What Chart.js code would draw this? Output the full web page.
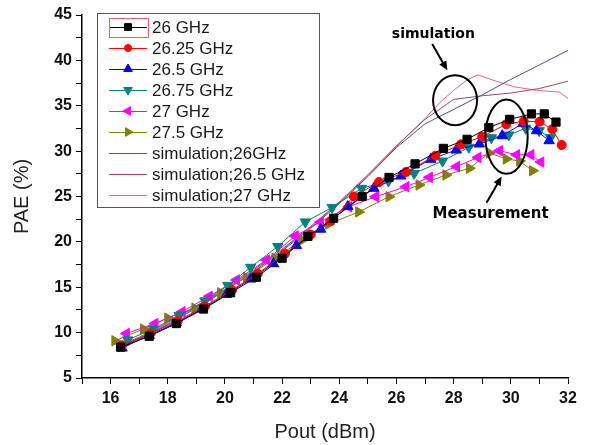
<!DOCTYPE html>
<html>
<head>
<meta charset="utf-8">
<script src="https://cdn.jsdelivr.net/npm/chart.js@4.4.0/dist/chart.umd.min.js"></script>
<style>
html,body{margin:0;padding:0;background:#fff;}
</style>
</head>
<body>
<canvas id="myChart" width="590" height="445"></canvas>
<script>
// PAE vs Pout, measured at six frequencies + three simulations

// measured
let pout26   = [16.35,17.35,18.3,19.25,20.2,21.1,22.0,22.9,23.8,24.8,25.74,26.65,27.64,28.47,29.23,29.96,30.72,31.17,31.58];
let pae26    = [8.4,9.6,11.0,12.6,14.4,16.1,18.2,20.6,22.6,25.0,27.1,28.6,30.3,31.3,32.6,33.5,34.1,34.1,33.2];

let pout2625 = [16.4,17.4,18.35,19.3,20.25,21.15,22.1,23.0,23.7,24.51,25.39,26.33,27.36,28.26,29.0,29.84,30.45,31.01,31.45,31.78];
let pae2625  = [8.6,9.9,11.3,12.9,14.7,16.5,18.7,20.8,22.3,25.0,26.6,27.7,29.5,30.75,31.6,32.96,33.3,33.24,32.4,30.67];

let pout265  = [16.4,17.35,18.3,19.2,20.05,20.9,21.7,22.5,23.35,24.3,25.21,26.15,27.2,28.09,28.9,29.7,30.43,30.9,31.34];
let pae265   = [8.3,9.7,11.1,12.6,14.2,15.9,17.6,19.6,21.4,23.9,25.9,27.26,29.1,30.12,30.79,31.7,33.07,32.25,31.15];

let pout2675 = [16.6,17.5,18.4,19.3,20.1,20.9,21.85,22.81,23.75,24.78,25.72,26.62,27.61,28.53,29.32,29.93,30.52,30.99,31.39];
let pae2675  = [9.2,10.4,11.9,13.5,15.2,17.2,19.5,22.2,23.8,25.9,26.7,27.55,28.91,30.42,31.48,31.78,32.52,32.25,31.48];

let pout27   = [16.55,17.55,18.5,19.45,20.4,21.45,22.46,23.34,24.33,25.27,26.33,27.15,28.1,28.85,29.6,30.2,30.7,31.05];
let pae27    = [9.9,11.0,12.3,14.0,15.8,18.0,20.65,22.2,23.87,24.98,26.08,27.11,28.3,29.3,30.05,29.6,29.6,28.8];

let pout275  = [16.15,17.15,18.0,18.95,19.85,20.75,21.75,22.7,23.63,24.68,25.74,26.79,27.73,28.55,29.25,29.84,30.31,30.76];
let pae275   = [9.1,10.4,11.6,12.7,14.4,16.1,18.2,20.2,21.97,23.3,24.98,26.27,27.37,28.11,29.8,29.13,28.91,27.84];

// simulation
let simPout   = [16.3,17,18,19,20,21,22,23,24,25,26,27,28,29,30,31,32];
let sim26     = [8.4,9.3,10.9,12.7,14.6,16.7,19.0,21.5,24.2,27.2,30.4,33.0,34.6,36.2,37.9,39.5,41.1];
let sim265    = [8.6,9.5,11.1,12.9,14.8,16.9,19.2,21.7,24.4,27.4,30.6,33.5,35.7,36.1,36.4,36.9,37.7];
let simPout27 = [16.3,17,18,19,20,21,22,23,24,25,26,27,27.5,28,28.5,28.85,29.4,30.1,30.9,31.7,32];
let sim27     = [8.5,9.4,11.0,12.8,14.7,16.8,19.1,21.6,24.3,27.3,30.5,33.6,35.3,36.7,37.9,38.4,37.8,37.1,36.7,36.5,35.8];

function pts(xs, ys){ return xs.map((v,i)=>({x:v, y:ys[i]})); }

function measured(label, xs, ys, color, style, rot, r){
    return {label:label, data:pts(xs,ys), showLine:true, borderColor:color, backgroundColor:color,
        borderWidth:1, pointStyle:style, pointRotation:rot, pointRadius:r, pointBorderWidth:1};
}
function sim(label, xs, ys, color){
    return {label:label, data:pts(xs,ys), showLine:true, borderColor:color, backgroundColor:color,
        borderWidth:1, pointRadius:0};
}

let datasets = [
    measured('26 GHz', pout26, pae26, '#000000', 'rect', 0, 5.8),
    measured('26.25 GHz', pout2625, pae2625, '#ff0000', 'circle', 0, 4.5),
    measured('26.5 GHz', pout265, pae265, '#0000ff', 'triangle', 0, 6),
    measured('26.75 GHz', pout2675, pae2675, '#008080', 'triangle', 180, 6),
    measured('27 GHz', pout27, pae27, '#ff00ff', 'triangle', 270, 6),
    measured('27.5 GHz', pout275, pae275, '#808000', 'triangle', 90, 6),
    sim('simulation;26GHz', simPout, sim26, '#4b4ba8'),
    sim('simulation;26.5 GHz', simPout, sim265, '#9a4a5a'),
    sim('simulation;27 GHz', simPout27, sim27, '#e8609e')
];

// boxed legend in the top left corner of the plot
let legendBox = {
    id:'legendBox',
    afterDatasetsDraw(chart){
        let ctx = chart.ctx, area = chart.chartArea;
        let x0 = area.left + 15, y0 = area.top - 2, w = 222, rowH = 21;
        let n = chart.data.datasets.length;
        ctx.save();
        ctx.fillStyle = '#fff';
        ctx.fillRect(x0, y0, w, n*rowH + 5);
        ctx.strokeStyle = '#555';
        ctx.lineWidth = 1;
        ctx.strokeRect(x0+0.5, y0+0.5, w, n*rowH + 5);
        chart.data.datasets.forEach(function(ds, i){
            let cy = y0 + 14 + i*rowH;
            ctx.strokeStyle = ds.borderColor;
            ctx.lineWidth = 1;
            ctx.beginPath(); ctx.moveTo(x0+12, cy+0.5); ctx.lineTo(x0+50, cy+0.5); ctx.stroke();
            if (ds.pointRadius > 0){
                ctx.fillStyle = ds.backgroundColor;
                Chart.helpers.drawPoint(ctx, {pointStyle:ds.pointStyle, rotation:ds.pointRotation,
                    radius:ds.pointRadius - 1, borderWidth:1}, x0+31, cy);
            }
            ctx.fillStyle = '#1a1a1a';
            ctx.font = '17px "Liberation Sans", Arial, sans-serif';
            ctx.textBaseline = 'middle';
            ctx.fillText(ds.label, x0+55, cy+1);
        });
        // leftover selection frame round the first sample
        ctx.strokeStyle = '#e06060';
        ctx.strokeRect(x0+12.5, y0+5.5, 39, 19);
        ctx.restore();
    }
};

// ellipses, arrows and the two notes
let notes = {
    id:'notes',
    afterDatasetsDraw(chart){
        let ctx = chart.ctx, sx = chart.scales.x, sy = chart.scales.y;
        function px(v){ return sx.getPixelForValue(v); }
        function py(v){ return sy.getPixelForValue(v); }
        function ellipse(cx, cy, rx, ry){
            ctx.beginPath();
            ctx.ellipse(px(cx), py(cy), Math.abs(px(cx+rx)-px(cx)), Math.abs(py(cy+ry)-py(cy)), 0, 0, Math.PI*2);
            ctx.stroke();
        }
        function arrow(x1, y1, x2, y2){
            let a = px(x1), b = py(y1), c = px(x2), d = py(y2);
            let ang = Math.atan2(d-b, c-a);
            ctx.beginPath(); ctx.moveTo(a, b); ctx.lineTo(c - 6*Math.cos(ang), d - 6*Math.sin(ang)); ctx.stroke();
            ctx.beginPath();
            ctx.moveTo(c, d);
            ctx.lineTo(c - 9*Math.cos(ang) + 4*Math.sin(ang), d - 9*Math.sin(ang) - 4*Math.cos(ang));
            ctx.lineTo(c - 9*Math.cos(ang) - 4*Math.sin(ang), d - 9*Math.sin(ang) + 4*Math.cos(ang));
            ctx.closePath(); ctx.fill();
        }
        ctx.save();
        ctx.strokeStyle = '#000'; ctx.fillStyle = '#000'; ctx.lineWidth = 2;
        ellipse(28.05, 35.6, 0.77, 2.75);
        ellipse(29.85, 31.6, 0.74, 4.1);
        arrow(27.25, 41.8, 27.78, 38.9);
        arrow(29.15, 24.3, 29.68, 27.2);
        ctx.font = 'bold 14px "DejaVu Sans", sans-serif';
        ctx.textAlign = 'center'; ctx.textBaseline = 'middle';
        ctx.fillText('simulation', px(27.29), py(42.9));
        ctx.font = 'bold 15px "DejaVu Sans", sans-serif';
        ctx.fillText('Measurement', px(29.29), py(23.07));
        ctx.restore();
    }
};

let tickFont = {family:'"Liberation Sans", Arial, sans-serif', size:16, weight:'bold'};
let titleFont = {family:'"Liberation Sans", Arial, sans-serif', size:20};

let myChart1 = document.getElementById('myChart').getContext('2d');
let chart1 = new Chart(myChart1, {
    type:'scatter',
    data:{datasets:datasets},
    options:{
        responsive:false,
        animation:false,
        layout:{padding:{left:0, right:22, top:15, bottom:0}},
        plugins:{legend:{display:false}, tooltip:{enabled:false}},
        scales:{
            x:{
                type:'linear', min:15, max:32,
                afterFit(s){ s.height = 67; },
                border:{display:true, color:'#000', width:1.5},
                grid:{display:true, drawOnChartArea:false, drawTicks:true, tickLength:6, color:'#000'},
                ticks:{stepSize:1, padding:5, color:'#111', font:tickFont, maxRotation:0,
                    callback:function(v){ return (v % 2 === 0) ? v : ''; }},
                title:{display:true, text:'Pout (dBm)', color:'#222', font:titleFont, padding:{top:0, bottom:1}}
            },
            y:{
                type:'linear', min:5, max:45,
                afterFit(s){ s.width = 82; },
                border:{display:true, color:'#000', width:1.5},
                grid:{display:true, drawOnChartArea:false, drawTicks:true, tickLength:6, color:'#000'},
                ticks:{stepSize:2.5, padding:4, color:'#111', font:tickFont,
                    callback:function(v){ return (v % 5 === 0) ? v : ''; }},
                title:{display:true, text:'PAE (%)', color:'#222', font:titleFont, padding:{top:10, bottom:0}}
            }
        }
    },
    plugins:[legendBox, notes]
});
</script>
</body>
</html>
